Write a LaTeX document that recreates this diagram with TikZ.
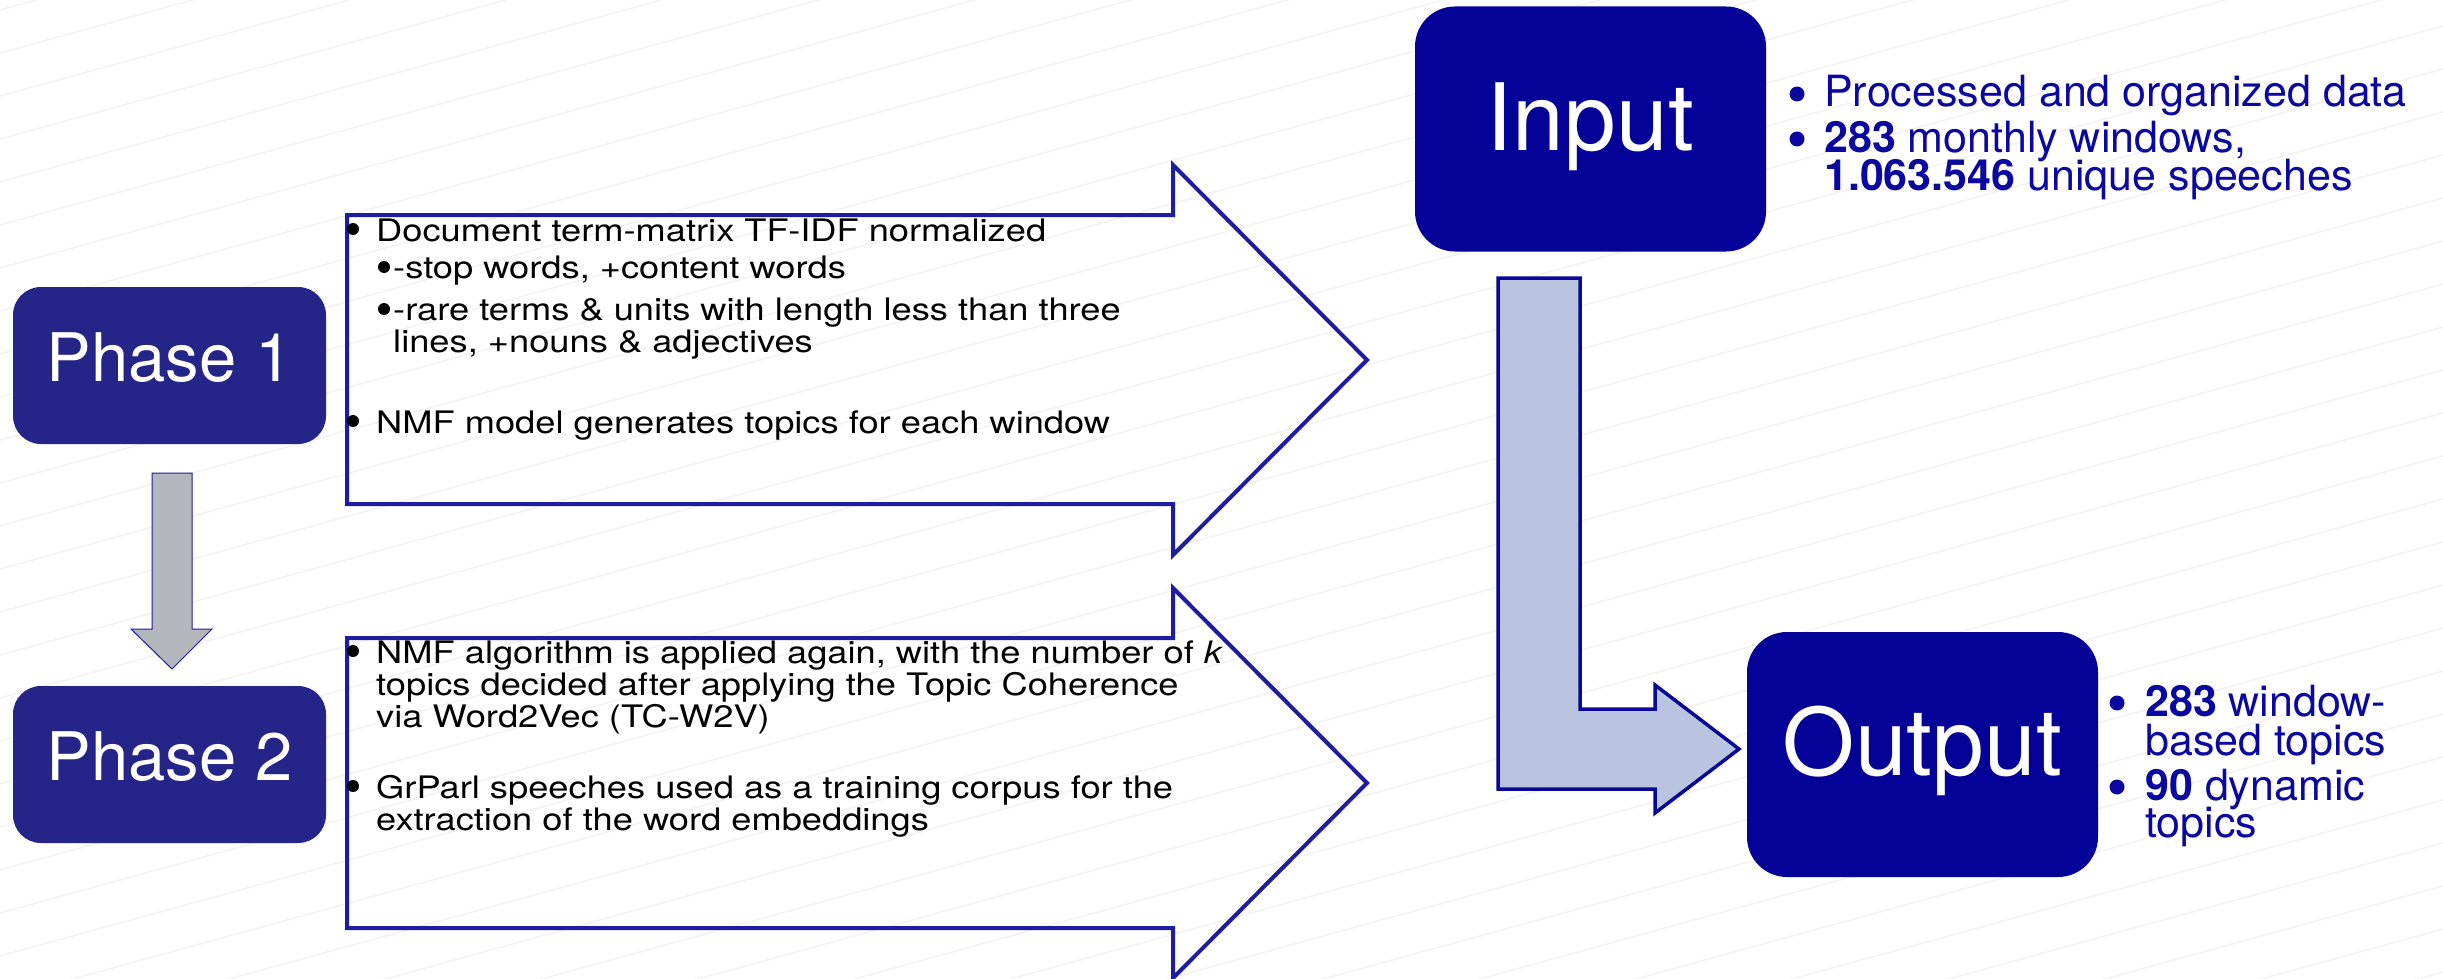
\documentclass[tikz,border=0pt]{standalone}
\usepackage{fontspec}
\setmainfont{TeX Gyre Heros}
\newfontfamily\arrowfont{TeX Gyre Heros}[FakeStretch=1.17]
\definecolor{phasecol}{RGB}{37,36,137}
\definecolor{iocol}{RGB}{5,2,152}
\definecolor{arrowline}{RGB}{30,28,160}
\definecolor{lfill}{RGB}{186,195,224}
\definecolor{lline}{RGB}{8,8,150}
\definecolor{grayfill}{RGB}{180,183,190}
\definecolor{listcol}{RGB}{10,8,160}
\definecolor{bgl}{RGB}{243,243,243}
\begin{document}
\begin{tikzpicture}[x=1pt,y=-1pt,
  bgline/.style={draw=bgl,line width=1.6pt},
  phasebox/.style={fill=phasecol,rounded corners=28pt,text=white,inner sep=0pt,
    font=\fontsize{67}{80}\selectfont,text height=48pt,text depth=17pt,
    minimum width=313pt,minimum height=157pt},
  iobox/.style={fill=iocol,rounded corners=40pt,text=white,inner sep=0pt,
    font=\fontsize{93}{110}\selectfont,text height=67pt,text depth=25pt,
    minimum width=351pt,minimum height=245pt},
  blockarrow/.style={draw=arrowline,line width=4pt,line join=miter},
  atext/.style={anchor=base west,inner sep=0pt,text=black,
    text height=22pt,text depth=6pt,
    font=\arrowfont\fontsize{31}{32}\selectfont},
  ltext/.style={anchor=base west,inner sep=0pt,text=listcol,
    text height=30pt,text depth=6pt,
    font=\fontsize{43}{45}\selectfont}
]
\useasboundingbox (0,0) rectangle (2443,979);
\fill[white] (0,0) rectangle (2443,979);
\begin{scope}
\clip (0,0) rectangle (2443,979);
\foreach \k in {-1,...,40}
  \draw[bgline] (0,{53+43*\k}) -- (2443,{53+43*\k-672});
\end{scope}

% phase boxes
\node[phasebox] (p1) at (169.5,365.5) {Phase 1};
\node[phasebox] (p2) at (169.5,764.5) {Phase 2};

% gray down arrow between phases
\draw[fill=grayfill,draw=arrowline,line width=1pt]
  (152,473) -- (192,473) -- (192,629) -- (212,629) -- (172,669)
  -- (131,629) -- (152,629) -- cycle;

% block arrow 1
\draw[blockarrow] (347,215) -- (1173,215) -- (1173,165) -- (1367,360)
  -- (1173,555) -- (1173,504) -- (347,504) -- cycle;
% block arrow 2
\draw[blockarrow] (347,638) -- (1173,638) -- (1173,588) -- (1367,783)
  -- (1173,978) -- (1173,928) -- (347,928) -- cycle;

% arrow 1 text
\node[atext] (t11) at (376,241) {Document term-matrix TF-IDF normalized};
\node[atext] (t12) at (393,278) {-stop words, +content words};
\node[atext] (t13) at (393,320) {-rare terms \& units with length less than three};
\node[atext] (t14) at (393,352) {lines, +nouns \& adjectives};
\node[atext] (t15) at (376,433) {NMF model generates topics for each window};
% arrow 2 text
\node[atext] (t21) at (376,663) {NMF algorithm is applied again, with the number of \textit{k}};
\node[atext] (t22) at (376,695) {topics decided after applying the Topic Coherence};
\node[atext] (t23) at (376,727) {via Word2Vec (TC-W2V)};
\node[atext] (t24) at (376,798) {GrParl speeches used as a training corpus for the};
\node[atext] (t25) at (376,830) {extraction of the word embeddings};
% black bullets
\foreach \p in {(353,229),(384,267),(384,309),(353,421),(353,651),(353,786)}
  \fill[black] \p circle[radius=6pt];

% input / output
\node[iobox] (in) at (1590.5,129) {Input};
\node[iobox] (out) at (1922.5,754.5) {Output};

% L-shaped arrow
\draw[fill=lfill,draw=lline,line width=3.5pt,line join=miter]
  (1498,278) -- (1580,278) -- (1580,709) -- (1655,709) -- (1655,685)
  -- (1739,749) -- (1655,813) -- (1655,789) -- (1498,789) -- cycle;

% input list
\node[ltext] (il1) at (1824,107) {Processed and organized data};
\node[ltext] (il2) at (1824,152) {\textbf{283} monthly windows,};
\node[ltext] (il3) at (1824,190) {\textbf{1.063.546} unique speeches};
% output list
\node[ltext] (ol1) at (2145,716) {\textbf{283} window-};
\node[ltext] (ol2) at (2145,755) {based topics};
\node[ltext] (ol3) at (2145,800) {\textbf{90} dynamic};
\node[ltext] (ol4) at (2145,837) {topics};
% blue bullets
\foreach \p in {(1797,94),(1797,139),(2117,703),(2117,787)}
  \fill[listcol] \p circle[radius=7.5pt];
\end{tikzpicture}
\end{document}
